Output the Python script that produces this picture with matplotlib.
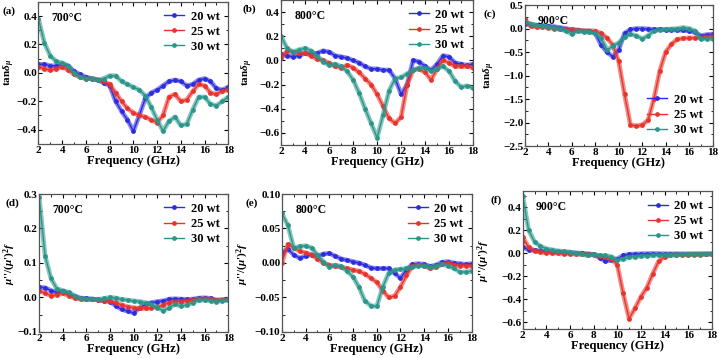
import numpy as np
import matplotlib
matplotlib.use("Agg")
import matplotlib.pyplot as plt
from matplotlib.ticker import MultipleLocator

plt.rcParams['font.family'] = ['Liberation Serif', 'DejaVu Serif']
plt.rcParams['font.weight'] = 'bold'
plt.rcParams['mathtext.fontset'] = 'custom'
plt.rcParams['mathtext.rm'] = 'Liberation Serif:bold'
plt.rcParams['mathtext.it'] = 'Liberation Serif:bold:italic'
plt.rcParams['mathtext.bf'] = 'Liberation Serif:bold'

freq = np.arange(2, 18.01, 0.5)
series_names = ["20 wt", "25 wt", "30 wt"]
temps = ["700°C", "800°C", "900°C"]

# (a) tan delta_mu, 700 C
a_20 = [0.06, 0.06, 0.05, 0.05, 0.06, 0.05, 0.01, -0.01, -0.03, -0.04, -0.05, -0.07, -0.09, -0.2, -0.27, -0.33, -0.41,
        -0.3, -0.18, -0.14, -0.12, -0.09, -0.06, -0.05, -0.06, -0.09, -0.08, -0.05, -0.04, -0.06, -0.11, -0.12, -0.1]
a_25 = [0.04, 0.03, 0.02, 0.03, 0.04, 0.02, -0.01, -0.03, -0.04, -0.04, -0.05, -0.06, -0.08, -0.14, -0.2, -0.25, -0.28,
        -0.3, -0.31, -0.33, -0.35, -0.3, -0.17, -0.15, -0.2, -0.19, -0.13, -0.08, -0.09, -0.14, -0.15, -0.13, -0.12]
a_30 = [0.38, 0.21, 0.12, 0.08, 0.07, 0.05, 0.0, -0.03, -0.04, -0.04, -0.05, -0.04, -0.02, -0.02, -0.06, -0.08, -0.1,
        -0.12, -0.16, -0.24, -0.33, -0.41, -0.34, -0.31, -0.37, -0.36, -0.26, -0.17, -0.17, -0.22, -0.23, -0.2, -0.17]
# (b) tan delta_mu, 800 C
b_20 = [0.05, 0.04, 0.03, 0.04, 0.06, 0.05, 0.06, 0.08, 0.07, 0.04, 0.03, 0.02, 0.0, -0.02, -0.05, -0.07, -0.07,
        -0.08, -0.08, -0.15, -0.28, -0.2, 0.0, -0.01, -0.05, -0.08, -0.03, 0.04, 0.03, -0.02, -0.03, -0.04, -0.03]
b_25 = [0.02, 0.08, 0.07, 0.06, 0.06, 0.04, 0.01, 0.0, -0.02, -0.05, -0.06, -0.04, -0.06, -0.1, -0.15, -0.2, -0.28,
        -0.38, -0.48, -0.52, -0.47, -0.2, -0.08, -0.07, -0.1, -0.16, -0.07, 0.0, -0.02, -0.05, -0.05, -0.05, -0.06]
b_30 = [0.2, 0.1, 0.07, 0.09, 0.1, 0.08, 0.04, -0.01, -0.04, -0.03, -0.05, -0.09, -0.16, -0.27, -0.4, -0.52, -0.64,
        -0.45, -0.25, -0.15, -0.14, -0.11, -0.08, -0.06, -0.06, -0.09, -0.07, -0.05, -0.09, -0.17, -0.22, -0.21, -0.23]
# (c) tan delta_mu, 900 C
c_20 = [0.1, 0.08, 0.07, 0.06, 0.05, 0.04, 0.02, 0.0, -0.03, -0.04, -0.05, -0.05, -0.1, -0.35, -0.5, -0.6, -0.45,
        -0.1, -0.02, 0.0, 0.0, -0.01, -0.02, -0.02, -0.03, -0.03, -0.03, -0.04, -0.05, -0.08, -0.15, -0.13, -0.12]
c_25 = [0.2, 0.05, 0.03, 0.03, 0.02, 0.0, -0.02, -0.02, -0.02, -0.03, -0.05, -0.05, -0.05, -0.1, -0.2, -0.35, -0.7,
        -1.4, -2.05, -2.07, -2.05, -1.95, -1.5, -0.9, -0.5, -0.33, -0.23, -0.21, -0.2, -0.2, -0.2, -0.18, -0.17]
c_30 = [0.13, 0.1, 0.07, 0.06, 0.04, 0.02, -0.01, -0.05, -0.12, -0.05, -0.07, -0.08, -0.1, -0.2, -0.45, -0.38, -0.3,
        -0.18, -0.12, -0.15, -0.22, -0.15, -0.05, -0.03, -0.02, -0.01, 0.0, 0.02, 0.0, -0.05, -0.22, -0.22, -0.22]
# (d) mu''/(mu')^2 f, 700 C
d_20 = [0.03, 0.028, 0.02, 0.015, 0.018, 0.01, 0.002, -0.002, -0.003, -0.005, -0.007, -0.01, -0.012, -0.025, -0.035,
        -0.04, -0.045, -0.03, -0.02, -0.015, -0.012, -0.01, -0.005, -0.004, -0.005, -0.006, -0.005, -0.002, -0.001,
        -0.003, -0.008, -0.007, -0.005]
d_25 = [0.02, 0.012, 0.005, 0.008, 0.012, 0.005, -0.002, -0.005, -0.006, -0.005, -0.007, -0.01, -0.01, -0.015, -0.022,
        -0.027, -0.03, -0.032, -0.032, -0.03, -0.028, -0.022, -0.015, -0.012, -0.012, -0.01, -0.008, -0.005, -0.004,
        -0.006, -0.008, -0.007, -0.006]
d_30 = [0.29, 0.12, 0.055, 0.025, 0.02, 0.015, 0.005, -0.003, -0.006, -0.005, -0.006, -0.003, 0.0, -0.002, -0.006,
        -0.008, -0.01, -0.012, -0.015, -0.02, -0.03, -0.038, -0.03, -0.02, -0.025, -0.022, -0.015, -0.008, -0.008,
        -0.01, -0.012, -0.01, -0.008]
# (e) mu''/(mu')^2 f, 800 C
e_20 = [0.015, 0.02, 0.012, 0.007, 0.01, 0.012, 0.01, 0.013, 0.014, 0.01, 0.006, 0.004, 0.002, 0.0, -0.003, -0.007,
        -0.008, -0.008, -0.008, -0.015, -0.022, -0.01, -0.002, -0.001, -0.002, -0.005, -0.003, 0.001, 0.002, 0.0,
        -0.001, -0.002, -0.001]
e_25 = [0.0, 0.027, 0.022, 0.017, 0.015, 0.012, 0.006, 0.0, -0.003, -0.005, -0.006, -0.008, -0.01, -0.012, -0.016,
        -0.022, -0.028, -0.04, -0.05, -0.048, -0.035, -0.018, -0.005, -0.003, -0.004, -0.008, -0.006, -0.002, 0.0,
        -0.003, -0.004, -0.004, -0.005]
e_30 = [0.072, 0.055, 0.022, 0.024, 0.025, 0.022, 0.012, 0.002, -0.006, -0.003, -0.005, -0.012, -0.02, -0.035, -0.055,
        -0.062, -0.063, -0.035, -0.015, -0.01, -0.009, -0.008, -0.006, -0.004, -0.004, -0.006, -0.005, -0.002, -0.004,
        -0.008, -0.013, -0.013, -0.012]
# (f) mu''/(mu')^2 f, 900 C
f_20 = [0.05, 0.03, 0.025, 0.02, 0.015, 0.012, 0.01, 0.008, 0.005, 0.002, 0.0, -0.005, -0.01, -0.04, -0.07, -0.06,
        -0.05, -0.02, -0.01, -0.007, -0.005, -0.004, -0.003, -0.004, -0.005, -0.005, -0.005, -0.005, -0.005, -0.005,
        -0.005, -0.005, -0.005]
f_25 = [0.14, 0.05, 0.02, 0.01, 0.005, 0.002, 0.0, -0.003, -0.005, -0.008, -0.01, -0.012, -0.015, -0.025, -0.035,
        -0.05, -0.1, -0.35, -0.57, -0.48, -0.38, -0.3, -0.18, -0.07, -0.03, -0.02, -0.015, -0.015, -0.015, -0.013,
        -0.012, -0.011, -0.01]
f_30 = [0.5, 0.2, 0.1, 0.06, 0.04, 0.03, 0.02, 0.015, 0.01, 0.0, -0.01, -0.02, -0.01, -0.02, -0.02, -0.03, -0.06,
        -0.05, -0.035, -0.03, -0.025, -0.022, -0.02, -0.017, -0.015, -0.013, -0.012, -0.011, -0.01, -0.009, -0.008,
        -0.006, -0.005]

# label, temp, data, ylim, ystep, axes rect, legend loc, row, ylabel x, panel label x
panels = [
    ("(a)", temps[0], [a_20, a_25, a_30], (-0.5, 0.5), 0.2, [0.0535, 0.598, 0.264, 0.397], "upper right", 0, -0.112, -0.19),
    ("(b)", temps[1], [b_20, b_25, b_30], (-0.7, 0.5), 0.2, [0.391, 0.595, 0.267, 0.405], "upper right", 0, -0.135, -0.20),
    ("(c)", temps[2], [c_20, c_25, c_30], (-2.5, 0.5), 0.5, [0.730, 0.592, 0.261, 0.394], "lower right", 0, -0.15, -0.22),
    ("(d)", temps[0], [d_20, d_25, d_30], (-0.1, 0.3), 0.1, [0.0545, 0.073, 0.263, 0.385], "upper right", 1, -0.112, -0.18),
    ("(e)", temps[1], [e_20, e_25, e_30], (-0.1, 0.1), 0.05, [0.392, 0.073, 0.264, 0.385], "upper right", 1, -0.16, -0.19),
    ("(f)", temps[2], [f_20, f_25, f_30], (-0.66, 0.54), 0.2, [0.727, 0.081, 0.263, 0.385], "upper right", 1, -0.165, -0.17),
]
colors = ["#2b2be0", "#e8332c", "#2a968a"]
ylabels = [r"tan$\delta_\mu$", r"$\mu$''/($\mu$')$^2$$f$"]

fig = plt.figure(figsize=(7.19, 3.58), dpi=100)
for lab, temp, data, ylim, ystep, pos, legloc, row, ylx, plx in panels:
    ax = fig.add_axes(pos)
    for vals, c, name in zip(data, colors, series_names):
        ax.plot(freq, vals, color=c, lw=3.4, alpha=0.55, solid_capstyle='round')
        ax.plot(freq, vals, color=c, lw=1.0, marker='o', ms=2.4, mec=c, mfc=c, label=name)
    ax.set_xlim(2, 18)
    ax.set_ylim(*ylim)
    ax.xaxis.set_major_locator(MultipleLocator(2))
    ax.xaxis.set_minor_locator(MultipleLocator(1))
    ax.yaxis.set_major_locator(MultipleLocator(ystep))
    ax.yaxis.set_minor_locator(MultipleLocator(ystep / 2))
    ax.tick_params(which='both', direction='in', top=True, right=True, labelsize=8, pad=1.5)
    ax.tick_params(axis='y', pad=1)
    ax.tick_params(which='major', length=3)
    ax.tick_params(which='minor', length=1.8)
    for lbl in ax.get_xticklabels() + ax.get_yticklabels():
        lbl.set_fontweight('bold')
    for sp in ax.spines.values():
        sp.set_color('#555555')
        sp.set_linewidth(0.9)
    ax.set_xlabel("Frequency (GHz)", fontsize=9, fontweight='bold', labelpad=0)
    ax.set_ylabel(ylabels[row], fontsize=8, fontweight='bold')
    ax.yaxis.set_label_coords(ylx, 0.5)
    ax.text(0.07, 0.93, temp, transform=ax.transAxes, fontsize=8.5, fontweight='bold', va='top', ha='left')
    ax.text(plx, 0.97, lab, transform=ax.transAxes, fontsize=8, fontweight='bold', va='top', ha='left')
    if legloc == "lower right":
        leg = ax.legend(loc='lower right', bbox_to_anchor=(1.0, 0.0), frameon=False, fontsize=9,
                        handlelength=1.6, handletextpad=0.5, labelspacing=0.25, borderaxespad=0.4)
    else:
        leg = ax.legend(loc='upper right', frameon=False, fontsize=9,
                        handlelength=1.6, handletextpad=0.5, labelspacing=0.25, borderaxespad=0.3)
    for t in leg.get_texts():
        t.set_fontweight('bold')

fig.savefig("out.png", dpi=100)
